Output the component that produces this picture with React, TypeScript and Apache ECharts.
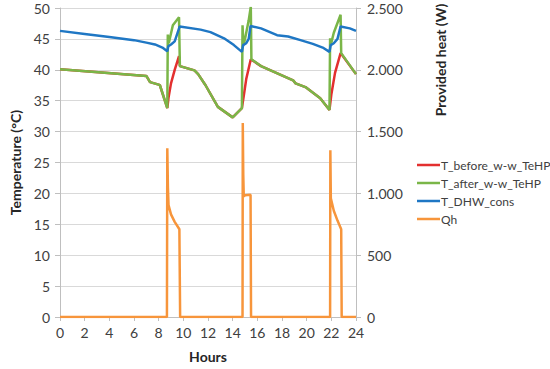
import React, { useEffect, useRef } from "react";
import * as echarts from "echarts";

// ---- data (hours, values) ----
const dhwHours = [0, 2, 4, 6, 7, 7.7, 8.3, 8.7, 8.78, 9.0, 9.3, 9.7, 11.4, 12.2, 13.3, 14.1, 14.75, 14.85, 15.1, 15.3, 15.45, 16.3, 17.6, 18.5, 19.5, 20.5, 21.3, 21.85, 21.95, 22.2, 22.5, 22.75, 23.5, 24];
const dhwTemp = [46.3, 45.8, 45.3, 44.8, 44.4, 44.1, 43.6, 43.0, 43.8, 44.1, 44.6, 47.0, 46.5, 46.1, 45.1, 44.0, 42.9, 44.0, 44.3, 45.0, 47.1, 46.7, 45.6, 45.4, 44.8, 44.2, 43.6, 42.9, 44.0, 44.3, 45.0, 47.0, 46.7, 46.3];

const afterHours = [0, 7.0, 7.3, 8.0, 8.1, 8.7, 8.74, 8.82, 9.15, 9.65, 9.72, 10.9, 11.2, 11.8, 12.8, 14.0, 14.75, 14.8, 14.87, 15.0, 15.3, 15.47, 15.52, 16.3, 18.9, 19.1, 19.9, 21.1, 21.85, 21.9, 21.95, 22.2, 22.75, 22.8, 24];
const afterTemp = [40.1, 39.0, 38.0, 37.6, 37.5, 33.8, 45.7, 44.3, 47.2, 48.5, 40.6, 39.9, 39.3, 37.5, 34.0, 32.3, 33.8, 47.2, 44.0, 45.0, 48.0, 50.2, 41.7, 40.6, 38.3, 37.8, 37.2, 35.4, 33.5, 45.1, 44.0, 46.0, 48.9, 42.7, 39.3];

const beforeHours = [0, 7.0, 7.3, 8.0, 8.1, 8.7, 8.8, 9.0, 9.3, 9.65, 9.72, 10.9, 11.2, 11.8, 12.8, 14.0, 14.75, 14.9, 15.1, 15.47, 15.52, 16.3, 18.9, 19.1, 19.9, 21.1, 21.85, 22.0, 22.3, 22.75, 22.8, 24];
const beforeTemp = [40.1, 39.0, 38.0, 37.6, 37.5, 33.8, 35.5, 37.8, 40.0, 42.2, 40.6, 39.9, 39.3, 37.5, 34.0, 32.3, 33.8, 35.8, 38.5, 41.7, 41.7, 40.6, 38.3, 37.8, 37.2, 35.4, 33.5, 36.0, 39.5, 42.7, 42.7, 39.3];

const qhHours = [0, 8.67, 8.7, 8.75, 8.8, 9.0, 9.3, 9.68, 9.74, 14.8, 14.82, 14.86, 14.9, 15.0, 15.45, 15.49, 21.9, 21.92, 21.96, 22.2, 22.5, 22.8, 22.84, 24];
const qhWatts = [0, 0, 1365, 1050, 905, 830, 770, 710, 0, 0, 1570, 1150, 975, 985, 990, 0, 0, 1350, 960, 860, 780, 710, 0, 0];

const seriesNames = ["T_before_w-w_TeHP", "T_after_w-w_TeHP", "T_DHW_cons", "Qh"];
const seriesColors = ["#e3302f", "#7ab648", "#1f77c4", "#f7953b"];

const pairs = (xs: number[], ys: number[]) => xs.map((x, i) => [x, ys[i]]);

const FONT = "Lato";

export default function App() {
  const ref = useRef<HTMLDivElement>(null);
  useEffect(() => {
    if (!ref.current) return;
    const chart = echarts.init(ref.current, undefined, { renderer: "svg" });
    const lineSeries = (idx: number, data: number[][], yAxisIndex: number) => ({
      name: seriesNames[idx],
      type: "line",
      yAxisIndex,
      data,
      showSymbol: false,
      symbol: "none",
      lineStyle: { width: 2.5, color: seriesColors[idx] },
      itemStyle: { color: seriesColors[idx] },
    });
    chart.setOption({
      animation: false,
      backgroundColor: "#ffffff",
      textStyle: { fontFamily: FONT },
      grid: { left: 58, right: 194, top: 8, bottom: 52 },
      legend: {
        orient: "vertical",
        left: 412,
        top: 154,
        icon: "rect",
        itemWidth: 23,
        itemHeight: 2.5,
        itemGap: 6,
        textStyle: { fontFamily: FONT, fontSize: 12, color: "#404040", padding: [0, 0, 0, -4] },
        data: seriesNames,
      },
      xAxis: {
        type: "value",
        min: 0,
        max: 24,
        interval: 2,
        name: "Hours",
        nameLocation: "middle",
        nameGap: 32,
        nameTextStyle: { fontFamily: FONT, fontSize: 14, fontWeight: "bold", color: "#262626" },
        axisLine: { show: true, lineStyle: { color: "#bfbfbf", width: 1 } },
        axisTick: { show: true, length: 4, lineStyle: { color: "#bfbfbf" } },
        axisLabel: { fontFamily: FONT, fontSize: 14, color: "#404040", margin: 8 },
        splitLine: { show: false },
      },
      yAxis: [
        {
          type: "value",
          min: 0,
          max: 50,
          interval: 5,
          name: "Temperature (°C)",
          nameLocation: "middle",
          nameGap: 38,
          nameTextStyle: { fontFamily: FONT, fontSize: 14, fontWeight: "bold", color: "#262626" },
          axisLine: { show: true, lineStyle: { color: "#bfbfbf", width: 1 } },
          axisTick: { show: true, length: 5, lineStyle: { color: "#bfbfbf" } },
          axisLabel: { fontFamily: FONT, fontSize: 14, color: "#404040", margin: 10 },
          splitLine: { show: true, lineStyle: { color: "#d9d9d9", width: 1 } },
        },
        {
          type: "value",
          min: 0,
          max: 2500,
          interval: 500,
          position: "right",
          axisLine: { show: true, lineStyle: { color: "#bfbfbf", width: 1 } },
          axisTick: { show: true, length: 5, lineStyle: { color: "#bfbfbf" } },
          axisLabel: {
            fontFamily: FONT,
            fontSize: 14,
            color: "#404040",
            margin: 11,
            formatter: (v: number) => (v >= 1000 ? `${Math.floor(v / 1000)}.${String(v % 1000).padStart(3, "0")}` : `${v}`),
          },
          splitLine: { show: false },
        },
      ],
      graphic: [
        {
          type: "text",
          x: 440,
          y: 60,
          rotation: Math.PI / 2,
          style: {
            text: "Provided heat (W)",
            fontFamily: FONT,
            fontSize: 14,
            fontWeight: "bold",
            fill: "#262626",
            textAlign: "center",
            textVerticalAlign: "middle",
          },
        },
      ],
      series: [
        lineSeries(0, pairs(beforeHours, beforeTemp), 0),
        lineSeries(1, pairs(afterHours, afterTemp), 0),
        lineSeries(2, pairs(dhwHours, dhwTemp), 0),
        lineSeries(3, pairs(qhHours, qhWatts), 1),
      ],
    });
    return () => chart.dispose();
  }, []);
  return <div ref={ref} style={{ width: 550, height: 369, position: "absolute", left: 0, top: 0 }} />;
}
